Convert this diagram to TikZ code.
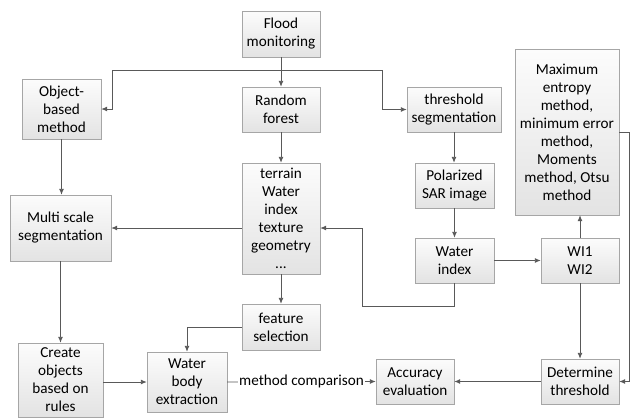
\documentclass[tikz,border=0pt]{standalone}
\usepackage{fontspec}
\setmainfont{Carlito}
\usepackage{tikz}
\usetikzlibrary{arrows.meta,positioning,shadows}

\definecolor{boxline}{HTML}{A6A6A6}
\definecolor{boxtop}{HTML}{FCFCFC}
\definecolor{boxbottom}{HTML}{E3E3E3}
\definecolor{wire}{HTML}{595959}

\begin{document}
\begin{tikzpicture}[
    x=1pt, y=-1pt,
    box/.style={rectangle, draw=boxline, top color=boxtop, bottom color=boxbottom, align=center, inner sep=1pt,
        font=\fontsize{15.2}{18}\selectfont,
        drop shadow={opacity=0.18, shadow xshift=1pt, shadow yshift=-1pt}},
    arrow/.style={-{Latex[length=6pt,width=5pt]}, draw=wire, line width=0.9pt}
]
    \useasboundingbox (0,0) rectangle (632,418);

    \node[box, minimum width=78, minimum height=46] (flood) at (281,34) {Flood\\monitoring};
    \node[box, minimum width=79, minimum height=60] (object) at (61.5,109) {Object-\\based\\method};
    \node[box, minimum width=78, minimum height=45] (forest) at (281,109.5) {Random\\forest};
    \node[box, minimum width=94, minimum height=45] (thresh) at (454,109.5) {threshold\\segmentation};
    \node[box, minimum width=104, minimum height=166] (maxent) at (567,132) {Maximum\\entropy\\method,\\minimum error\\method,\\Moments\\method, Otsu\\method};
    \node[box, minimum width=101, minimum height=66] (multi) at (60.5,228) {Multi scale\\segmentation};
    \node[box, minimum width=78, minimum height=111] (feat) at (281,218.5) {terrain\\Water\\index\\texture\\geometry\\...};
    \node[box, minimum width=79, minimum height=45] (polar) at (454.5,185.5) {Polarized\\SAR image};
    \node[box, minimum width=79, minimum height=45] (windex) at (454.5,260.5) {Water\\index};
    \node[box, minimum width=78, minimum height=45] (wi) at (580,260.5) {WI1\\WI2};
    \node[box, minimum width=78, minimum height=46] (fsel) at (281,327) {feature\\selection};
    \node[box, minimum width=85, minimum height=74] (create) at (60.5,380) {Create\\objects\\based on\\rules};
    \node[box, minimum width=80, minimum height=60] (body) at (187,382) {Water\\body\\extraction};
    \node[box, minimum width=78, minimum height=45] (acc) at (415,381.5) {Accuracy\\evaluation};
    \node[box, minimum width=78, minimum height=45] (det) at (580,381.5) {Determine\\threshold};

    \coordinate (split) at (281,70);
    \coordinate (back) at (362,306);

    \draw[arrow] (flood) -- (forest);
    \draw[arrow] (split) -| ([xshift=11]object.east) -- (object.east);
    \draw[arrow] (split) -| ([xshift=-24]thresh.west) -- (thresh.west);
    \draw[arrow] (object.south) -- (object.south |- multi.north);
    \draw[arrow] (multi.south) -- (multi.south |- create.north);
    \draw[arrow] (forest) -- (feat);
    \draw[arrow] (feat.west |- multi.east) -- (multi.east);
    \draw[arrow] (feat) -- (fsel);
    \draw[arrow] (fsel.west) -| (body.north);
    \draw[arrow] (create.east |- body.west) -- (body.west);
    \draw[arrow] (body.east) -- node[fill=white, inner sep=1.5pt, font=\fontsize{15.2}{18}\selectfont] (cmp) {method comparison} (acc.west);
    \draw[arrow] (det) -- (acc);
    \draw[arrow] (thresh.south) -- (thresh.south |- polar.north);
    \draw[arrow] (polar.south) -- (polar.south |- windex.north);
    \draw[arrow] (windex) -- (wi);
    \draw[arrow] (wi.north) -- (wi.north |- maxent.south);
    \draw[arrow] (wi) -- (det);
    \draw[arrow] (maxent.east) -| ([xshift=10]det.east) -- (det.east);
    \draw[arrow] (windex.south) |- (back) |- (feat.east |- multi.east);
\end{tikzpicture}
\end{document}
